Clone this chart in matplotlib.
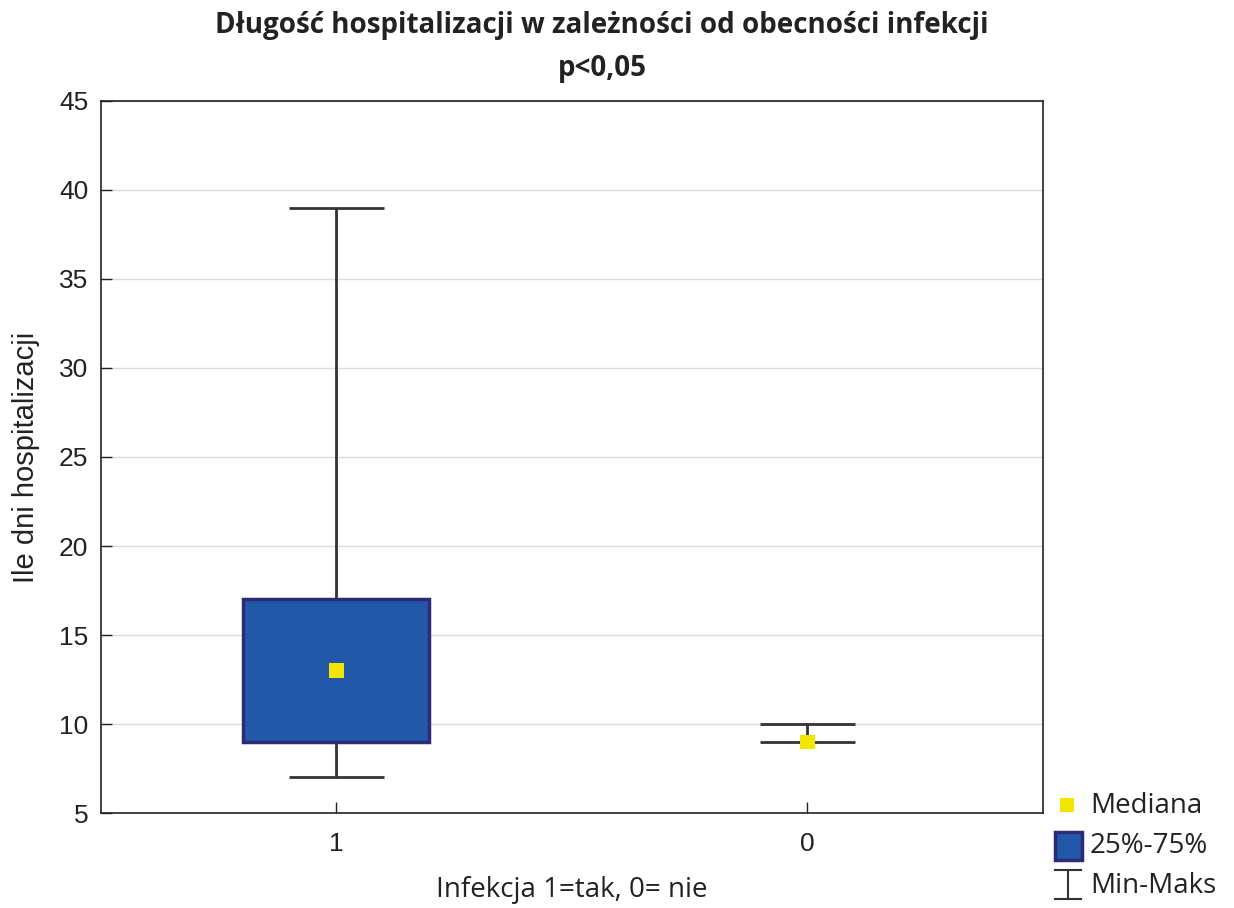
import matplotlib
matplotlib.use("Agg")
import matplotlib.pyplot as plt
from matplotlib.patches import Rectangle
from matplotlib.lines import Line2D

# length of stay by infection status (1 = yes, 0 = no)
groups = ["1", "0"]
q1 = [9, 9]
q3 = [17, 9]
medians = [13, 9]
mins = [7, 9]
maxs = [39, 10]

BOX_FILL = "#2158a8"
BOX_EDGE = "#2b2b78"
MED_COLOR = "#f2e600"
LINE_COLOR = "#333333"
TEXT_COLOR = "#222222"
SANS = ["Liberation Sans", "DejaVu Sans"]
LABEL_FONT = ["Open Sans", "DejaVu Sans"]

fig = plt.figure(figsize=(12.34, 9.08), dpi=100)
ax = fig.add_axes([0.0818, 0.1046, 0.7634, 0.7842])

box_w = 0.395
cap_w = 0.2
for i in range(len(groups)):
    # whisker from min to max, then caps
    ax.vlines(i, mins[i], maxs[i], color=LINE_COLOR, lw=2, zorder=2)
    ax.hlines([mins[i], maxs[i]], i - cap_w / 2, i + cap_w / 2,
              color=LINE_COLOR, lw=2, zorder=2)
    if q3[i] > q1[i]:
        ax.add_patch(Rectangle((i - box_w / 2, q1[i]), box_w, q3[i] - q1[i],
                               facecolor=BOX_FILL, edgecolor=BOX_EDGE,
                               lw=2.5, zorder=3))
    ax.scatter(i, medians[i], marker="s", s=110, color=MED_COLOR,
               edgecolors="none", zorder=4)

ax.set_xlim(-0.5, 1.5)
ax.set_ylim(5, 45)
ax.set_yticks(range(5, 50, 5))
ax.set_xticks(range(len(groups)))
ax.set_xticklabels(groups)
ax.yaxis.grid(True, color="#dcdcdc", lw=1)
ax.set_axisbelow(True)
ax.tick_params(direction="in", length=8, width=1, labelsize=19, pad=9,
               colors=TEXT_COLOR)
ax.tick_params(axis="x", pad=14)
for lab in ax.get_xticklabels() + ax.get_yticklabels():
    lab.set_family(SANS)
for sp in ax.spines.values():
    sp.set_color(TEXT_COLOR)
    sp.set_linewidth(1.2)

ax.set_ylabel("Ile dni hospitalizacji", fontsize=21, family=SANS,
              color=TEXT_COLOR, labelpad=14)
ax.set_xlabel("Infekcja 1=tak, 0= nie", fontsize=20, family=LABEL_FONT,
              color=TEXT_COLOR, labelpad=14)

fig.text(0.488, 0.972, "Długość hospitalizacji w zależności od obecności infekcji",
         ha="center", va="center", fontsize=20, fontweight="bold",
         family=LABEL_FONT, color=TEXT_COLOR)
fig.text(0.488, 0.925, "p<0,05", ha="center", va="center", fontsize=20,
         fontweight="bold", family=LABEL_FONT, color=TEXT_COLOR)

# legend drawn in figure coordinates
W, H = 1234, 908
def fx(px):
    return px / W
def fy(py):
    return 1 - py / H

fig.add_artist(Rectangle((fx(1060), fy(812)), 14 / W, 14 / H,
                         facecolor=MED_COLOR, edgecolor="none",
                         transform=fig.transFigure))
fig.add_artist(Rectangle((fx(1055), fy(860)), 27 / W, 28 / H,
                         facecolor=BOX_FILL, edgecolor=BOX_EDGE, lw=2.5,
                         transform=fig.transFigure))
fig.add_artist(Line2D([fx(1068), fx(1068)], [fy(870), fy(899)],
                      color=LINE_COLOR, lw=1.5, transform=fig.transFigure))
fig.add_artist(Line2D([fx(1055), fx(1081)], [fy(870), fy(870)],
                      color=LINE_COLOR, lw=1.5, transform=fig.transFigure))
fig.add_artist(Line2D([fx(1055), fx(1081)], [fy(899), fy(899)],
                      color=LINE_COLOR, lw=1.5, transform=fig.transFigure))
for label, ypx in [("Mediana", 806), ("25%-75%", 846), ("Min-Maks", 886)]:
    fig.text(fx(1090), fy(ypx), label, ha="left", va="center", fontsize=20,
             family=LABEL_FONT, color=TEXT_COLOR)

fig.savefig("out.png", dpi=100)
